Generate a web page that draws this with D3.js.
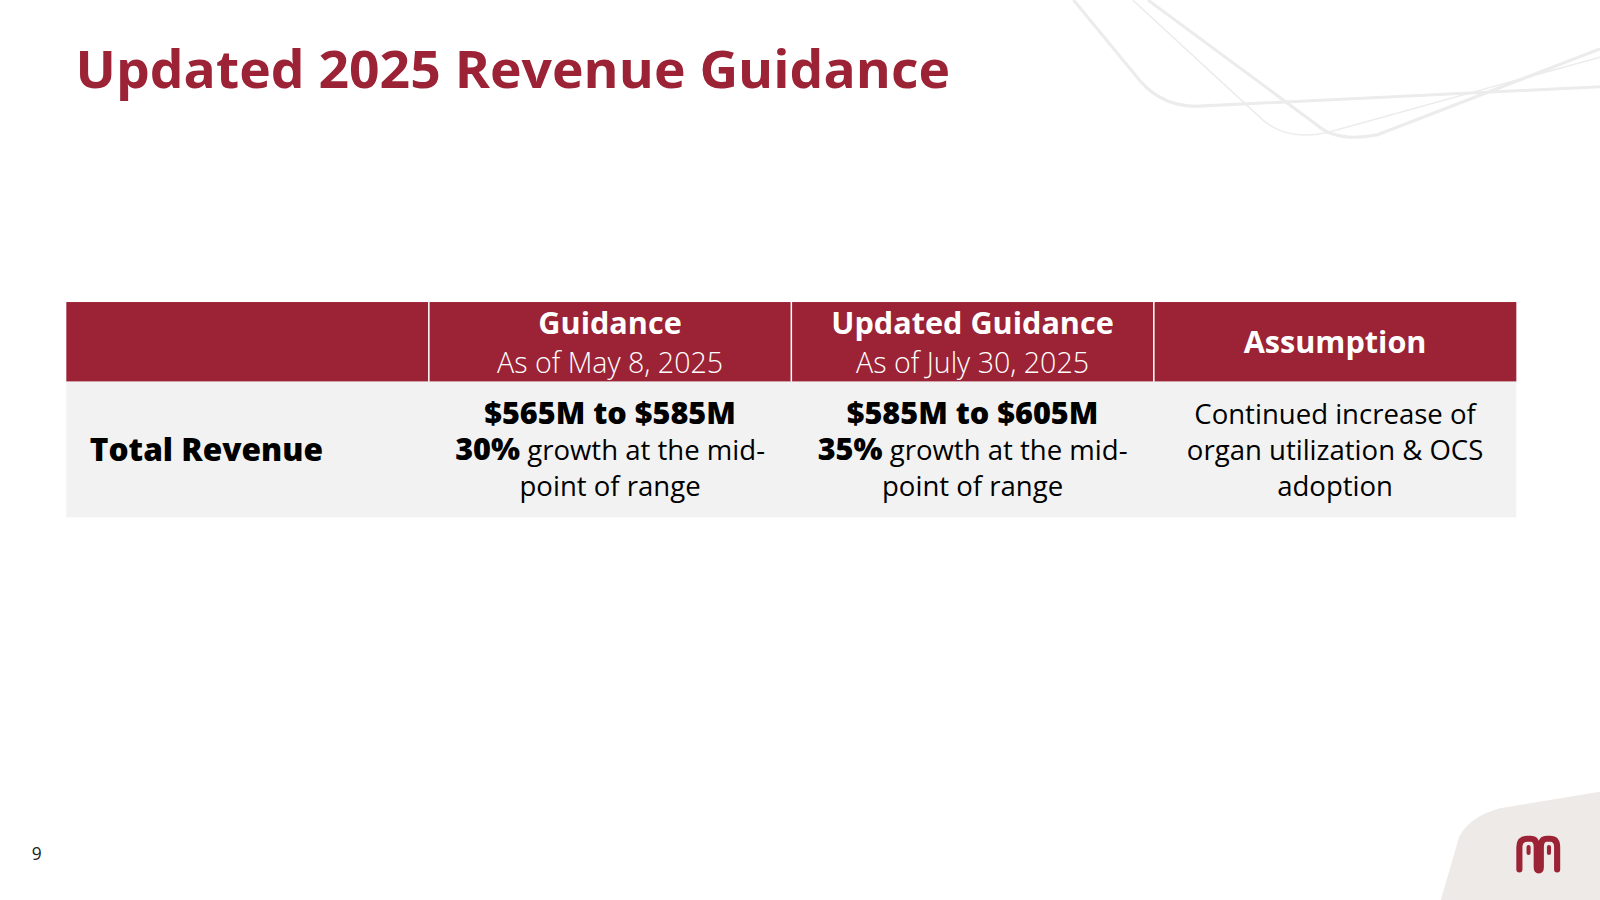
<!DOCTYPE html>
<html><head><meta charset="utf-8">
<script src="https://cdn.jsdelivr.net/npm/d3@7"></script>
<style>html,body{margin:0;padding:0;background:#fff;overflow:hidden}</style>
</head><body>
<svg id="c" width="1600" height="900" viewBox="0 0 1568 882"></svg>
<script>
const title = "Updated 2025 Revenue Guidance";
const columns = ["label", "guidance", "updated", "assumption"];
const headerBold = ["", "Guidance", "Updated Guidance", "Assumption"];
const headerSub = ["", "As of May 8, 2025", "As of July 30, 2025", ""];
const rowLabel = "Total Revenue";
const ranges = ["", "$565M to $585M", "$585M to $605M", ""];
const growthPct = ["", "30%", "35%", ""];
const assumptionLines = ["Continued increase of", "organ utilization & OCS", "adoption"];
const pageNumber = "9";

const RED = "#9B2335", F = "'Open Sans', Lato, sans-serif";
const svg = d3.select("#c");

const deco = svg.append("g").attr("fill","none").attr("stroke","#ececec");
deco.append("path").attr("stroke-width",3).attr("d","M1052,0 L1118,80 Q1140,105 1175,104 L1568,85");
deco.append("path").attr("stroke-width",1.5).attr("d","M1110,0 L1238,118 Q1262,138 1300,130 L1568,56");
deco.append("path").attr("stroke-width",3).attr("d","M1125,0 L1290,122 Q1310,140 1350,132 L1568,48");

svg.append("path").attr("fill","#EEEAE7")
  .attr("d","M1412,882 L1430,820 Q1440,800 1470,792 L1568,776 L1568,882 Z");
const lg = svg.append("g").attr("fill","none").attr("stroke",RED).attr("stroke-width",6).attr("stroke-linecap","round");
lg.append("path").attr("d","M1489,852 L1489,830 Q1489,822 1497,822 L1500,822 Q1506,822 1506,830 L1506,850 Q1506,853 1508,853 Q1510,853 1510,850 L1510,830 Q1510,822 1516,822 L1519,822 Q1526,822 1526,830 L1526,852");
lg.append("path").attr("stroke-width",4).attr("d","M1498,836 L1498,830 M1518,836 L1518,830");

svg.append("text").attr("x",74).attr("y",86).attr("fill",RED).attr("font-family",F)
  .attr("font-weight",700).attr("font-size",50).attr("textLength",857).attr("lengthAdjust","spacingAndGlyphs").text(title);
svg.append("text").attr("x",31).attr("y",843).attr("font-family",F).attr("font-size",17).attr("fill","#222").text(pageNumber);

const x = d3.scaleBand().domain(columns).range([65,1486]);
const headTop=296, headBot=374, bodyBot=507;
svg.append("rect").attr("x",x.range()[0]).attr("y",headTop).attr("width",x.range()[1]-x.range()[0]).attr("height",headBot-headTop).attr("fill",RED);
svg.append("rect").attr("x",x.range()[0]).attr("y",headBot).attr("width",x.range()[1]-x.range()[0]).attr("height",bodyBot-headBot).attr("fill","#F2F2F2");
svg.selectAll("line.sep").data(columns.slice(1)).join("line")
  .attr("x1",d=>x(d)).attr("x2",d=>x(d)).attr("y1",headTop).attr("y2",headBot).attr("stroke","#fff").attr("stroke-width",1.5);

const cx = d=>x(d)+x.bandwidth()/2;
const FS = 27, FB = 30;
columns.forEach((c,i)=>{
  if(!headerBold[i]) return;
  if(headerSub[i]){
    svg.append("text").attr("x",cx(c)).attr("y",327).attr("text-anchor","middle").attr("fill","#fff")
      .attr("font-family",F).attr("font-weight",700).attr("font-size",FB).text(headerBold[i]);
    svg.append("text").attr("x",cx(c)).attr("y",366).attr("text-anchor","middle").attr("fill","#fff")
      .attr("font-family",F).attr("font-weight",300).attr("font-size",FS+1).text(headerSub[i]);
  } else {
    svg.append("text").attr("x",cx(c)).attr("y",346).attr("text-anchor","middle").attr("fill","#fff")
      .attr("font-family",F).attr("font-weight",700).attr("font-size",FB).text(headerBold[i]);
  }
});
svg.append("text").attr("x",88).attr("y",452).attr("font-family",F).attr("font-weight",800)
  .attr("font-size",31).attr("fill","#000").text(rowLabel);
columns.forEach((c,i)=>{
  if(!ranges[i]) return;
  svg.append("text").attr("x",cx(c)).attr("y",416).attr("text-anchor","middle").attr("font-family",F)
    .attr("font-weight",800).attr("font-size",FB).text(ranges[i]);
  const t = svg.append("text").attr("x",cx(c)).attr("y",451).attr("text-anchor","middle").attr("font-family",F).attr("font-size",FS);
  t.append("tspan").attr("font-weight",800).attr("font-size",FB).text(growthPct[i]);
  t.append("tspan").text(" growth at the mid-");
  svg.append("text").attr("x",cx(c)).attr("y",486).attr("text-anchor","middle").attr("font-family",F)
    .attr("font-size",FS).text("point of range");
});
assumptionLines.forEach((s,j)=>{
  svg.append("text").attr("x",cx("assumption")).attr("y",416+j*35).attr("text-anchor","middle")
    .attr("font-family",F).attr("font-size",FS).text(s);
});
</script>
</body></html>
